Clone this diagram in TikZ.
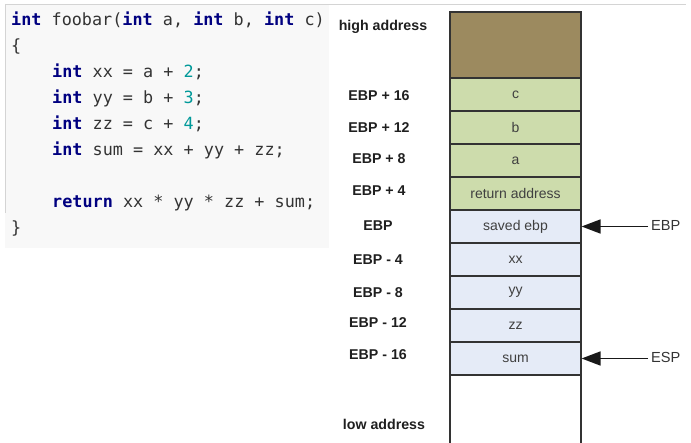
\documentclass[tikz,border=0pt]{standalone}
\usepackage{fontspec}
\setmainfont{Liberation Sans}
\newfontfamily\codefont{DejaVu Sans Mono}
\usetikzlibrary{arrows.meta}
\definecolor{kw}{HTML}{000080}
\definecolor{num}{HTML}{009999}
\definecolor{txt}{HTML}{333333}
\definecolor{codebg}{HTML}{F8F8F8}
\definecolor{rulegray}{HTML}{D4D4D4}
\definecolor{brownc}{HTML}{9C8A5F}
\definecolor{greenc}{HTML}{CDDCAC}
\definecolor{bluec}{HTML}{E5EBF7}
\definecolor{edge}{HTML}{333333}
\newcommand{\kwd}[1]{\textcolor{kw}{\bfseries #1}}
\newcommand{\nmb}[1]{\textcolor{num}{#1}}
\begin{document}
\begin{tikzpicture}[x=1pt,y=-1pt,
  codeline/.style={anchor=base west,inner sep=0pt,text=txt,font=\codefont\fontsize{16.8}{20}\selectfont},
  cell/.style={draw=edge,line width=1.1pt,minimum width=131pt,inner sep=0pt,font=\fontsize{14}{16}\selectfont,text=black!75},
  addr/.style={inner sep=0pt,font=\bfseries\fontsize{14.2}{17}\selectfont,text=black!88},
  ptr/.style={inner sep=0pt,anchor=west,font=\fontsize{14.6}{17}\selectfont,text=black!80},
  arrowc/.style={line width=1.6pt,draw=black!90,-{Triangle[length=19pt,width=14pt]}}]
\useasboundingbox (0,0) rectangle (691,443);
% code box
\fill[codebg] (5,4) rectangle (329,248);
\draw[rulegray,line width=0.8pt] (5,4) -- (686,4);
\draw[rulegray,line width=0.8pt] (5,4) -- (5,213);
\node[codeline] (l1) at (11,26) {\kwd{int} foobar(\kwd{int} a, \kwd{int} b, \kwd{int} c)};
\node[codeline] (l2) at (11,52) {\{};
\node[codeline] (l3) at (52,78) {\kwd{int} xx = a + \nmb{2};};
\node[codeline] (l4) at (52,104) {\kwd{int} yy = b + \nmb{3};};
\node[codeline] (l5) at (52,130) {\kwd{int} zz = c + \nmb{4};};
\node[codeline] (l6) at (52,156) {\kwd{int} sum = xx + yy + zz;};
\node[codeline] (l7) at (52,208) {\kwd{return} xx * yy * zz + sum;};
\node[codeline] (l8) at (11,234) {\}};
% stack
\draw[edge,line width=1.1pt] (450,375) -- (450,445);
\draw[edge,line width=1.1pt] (581,375) -- (581,445);
\node[cell,fill=brownc,minimum height=66pt] (top) at (515.5,45) {};
\node[cell,fill=greenc,minimum height=33pt] (c) at (515.5,94.5) {c};
\node[cell,fill=greenc,minimum height=33pt] (b) at (515.5,127.5) {b};
\node[cell,fill=greenc,minimum height=33pt] (a) at (515.5,160.5) {a};
\node[cell,fill=greenc,minimum height=33pt] (ret) at (515.5,193.5) {return address};
\node[cell,fill=bluec,minimum height=33pt] (saved) at (515.5,226.5) {saved ebp};
\node[cell,fill=bluec,minimum height=33pt] (xx) at (515.5,259.5) {xx};
\node[cell,fill=bluec,minimum height=33pt] (yy) at (515.5,292.5) {yy};
\node[cell,fill=bluec,minimum height=33pt] (zz) at (515.5,325.5) {zz};
\node[cell,fill=bluec,minimum height=33pt] (sum) at (515.5,358.5) {sum};
% address labels
\node[addr] (hi) at (383,27) {high address};
\node[addr] (p16) at (379,96) {EBP + 16};
\node[addr] (p12) at (379,128) {EBP + 12};
\node[addr] (p8) at (379,159) {EBP + 8};
\node[addr] (p4) at (379,191) {EBP + 4};
\node[addr] (p0) at (378,226) {EBP};
\node[addr] (m4) at (378,260) {EBP - 4};
\node[addr] (m8) at (378,293) {EBP - 8};
\node[addr] (m12) at (378,323) {EBP - 12};
\node[addr] (m16) at (378,355) {EBP - 16};
\node[addr] (lo) at (384,424) {low address};
% pointers
\node[ptr] (ebp) at (651,225) {EBP};
\node[ptr] (esp) at (651,357) {ESP};
\draw[arrowc] (ebp.west |- saved.east) ++(-3,0) -- (saved.east);
\draw[arrowc] (esp.west |- sum.east) ++(-3,0) -- (sum.east);
\end{tikzpicture}
\end{document}
